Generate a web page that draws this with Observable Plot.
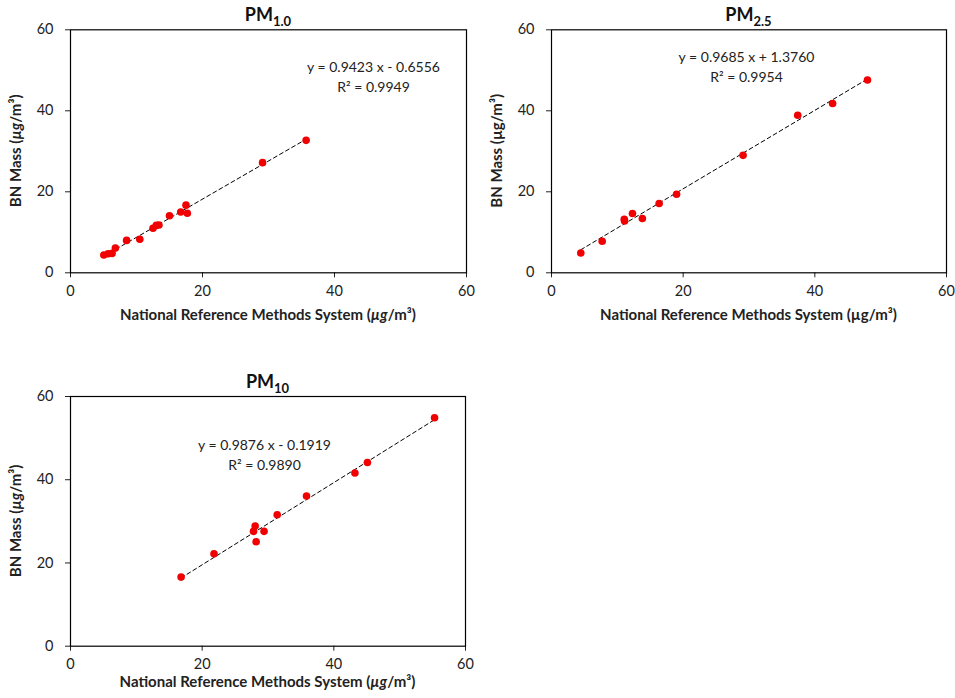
<!DOCTYPE html>
<html>
<head>
<meta charset="utf-8">
<script src="https://cdn.jsdelivr.net/npm/d3@7"></script>
<script src="https://cdn.jsdelivr.net/npm/@observablehq/plot@0.6"></script>
<style>
  body { margin: 0; background: #fff; }
  #chart { position: relative; width: 955px; height: 698px; font-family: Lato, "Open Sans", sans-serif; }
  #chart svg { position: absolute; overflow: visible; }
</style>
</head>
<body>
<div id="chart"></div>
<script>
// Axis ticks shared by all three panels
const axisTicks = [0, 20, 40, 60];

// PM1.0: reference (x) vs BN mass (y), µg/m³
const pm1X = [5.05, 5.7, 6.3, 6.8, 8.5, 10.5, 12.5, 13.0, 13.4, 15.0, 16.7, 17.5, 17.7, 29.1, 35.7];
const pm1Y = [4.4, 4.7, 4.8, 6.1, 8.0, 8.3, 11.0, 11.7, 11.8, 14.1, 15.0, 16.7, 14.7, 27.2, 32.7];
const pm1Fit = { slope: 0.9423, intercept: -0.6556, r2: 0.9949 };

// PM2.5
const pm25X = [4.45, 7.7, 11.05, 11.1, 12.3, 13.8, 16.35, 19.0, 29.1, 37.4, 42.7, 48.0];
const pm25Y = [4.9, 7.8, 13.2, 12.8, 14.65, 13.4, 17.1, 19.4, 29.0, 38.9, 41.8, 47.6];
const pm25Fit = { slope: 0.9685, intercept: 1.3760, r2: 0.9954 };

// PM10
const pm10X = [16.8, 21.8, 27.8, 28.05, 28.2, 29.4, 31.4, 35.85, 43.2, 45.1, 55.3];
const pm10Y = [16.6, 22.2, 27.6, 28.9, 25.1, 27.6, 31.6, 36.1, 41.6, 44.15, 54.9];
const pm10Fit = { slope: 0.9876, intercept: -0.1919, r2: 0.9890 };

const font = 'Lato, "Open Sans", sans-serif';
const ink = "#222";

function drawPanel(cfg) {
  const { xs, ys, fit, left, top, width, height, m, eq, titleSub, italicMu } = cfg;
  const pts = xs.map((v, i) => ({ x: v, y: ys[i] }));
  const ext = d3.extent(xs);
  const line = ext.map(v => ({ x: v, y: fit.slope * v + fit.intercept }));
  const sign = fit.intercept < 0 ? "-" : "+";
  const eqLines = [
    `y = ${fit.slope.toFixed(4)} x ${sign} ${Math.abs(fit.intercept).toFixed(4)}`,
    `R² = ${fit.r2.toFixed(4)}`
  ];

  const svg = Plot.plot({
    width, height,
    marginLeft: m.l, marginRight: m.r, marginTop: m.t, marginBottom: m.b,
    style: { fontFamily: font, fontSize: "14.5px", color: ink, background: "transparent", overflow: "visible" },
    x: { domain: [0, 60], ticks: axisTicks, tickSize: 5, tickPadding: 8, label: null },
    y: { domain: [0, 60], ticks: axisTicks, tickSize: 5, tickPadding: 12, label: null },
    marks: [
      Plot.frame({ stroke: "#000", strokeWidth: 1.2 }),
      Plot.line(line, { x: "x", y: "y", stroke: "#000", strokeWidth: 1, strokeDasharray: "4,3" }),
      Plot.dot(pts, { x: "x", y: "y", r: 3.8, fill: "#f00000", stroke: "none" }),
      Plot.text([eqLines[0]], { text: d => d, frameAnchor: "top-left", dx: eq.dx, dy: eq.dy1,
        textAnchor: "middle", lineAnchor: "middle", fontSize: 14, fill: ink }),
      Plot.text([eqLines[1]], { text: d => d, frameAnchor: "top-left", dx: eq.dx, dy: eq.dy2,
        textAnchor: "middle", lineAnchor: "middle", fontSize: 14, fill: ink })
    ]
  });
  svg.style.left = left + "px";
  svg.style.top = top + "px";

  const s = d3.select(svg);
  const fx0 = m.l, fx1 = width - m.r, fy0 = m.t, fy1 = height - m.b;
  const cx = (fx0 + fx1) / 2, cy = (fy0 + fy1) / 2;

  // Panel title with subscript
  const t = s.append("text")
    .attr("x", cx).attr("y", fy0 - 8.5)
    .attr("text-anchor", "middle")
    .attr("font-family", font).attr("font-weight", "bold").attr("font-size", 18).attr("fill", "#111");
  t.append("tspan").text("PM");
  t.append("tspan").attr("font-size", 13).attr("dy", 5).text(titleSub);

  // Axis titles
  const unit = (sel) => {
    sel.append("tspan").text(" (");
    sel.append("tspan").attr("font-style", italicMu ? "italic" : "normal").text("µg");
    sel.append("tspan").text("/m³)");
  };
  const xl = s.append("text")
    .attr("x", cx).attr("y", fy1 + cfg.xLabelOffset)
    .attr("text-anchor", "middle")
    .attr("font-family", font).attr("font-weight", "bold").attr("font-size", 15).attr("fill", ink);
  xl.append("tspan").text("National Reference Methods System");
  unit(xl);

  const yl = s.append("text")
    .attr("transform", `translate(${fx0 - 49},${cy}) rotate(-90)`)
    .attr("text-anchor", "middle")
    .attr("font-family", font).attr("font-weight", "bold").attr("font-size", 15).attr("fill", ink);
  yl.append("tspan").text("BN Mass");
  unit(yl);

  document.getElementById("chart").appendChild(svg);
}

drawPanel({
  xs: pm1X, ys: pm1Y, fit: pm1Fit, titleSub: "1.0", italicMu: true,
  left: 0, top: 0, width: 480, height: 330,
  m: { l: 70, r: 14, t: 29.3, b: 57.7 },
  eq: { dx: 303, dy1: 37.7, dy2: 57.7 },
  xLabelOffset: 47.5
});

drawPanel({
  xs: pm25X, ys: pm25Y, fit: pm25Fit, titleSub: "2.5", italicMu: false,
  left: 480, top: 0, width: 475, height: 330,
  m: { l: 71, r: 9, t: 29.3, b: 57.7 },
  eq: { dx: 195, dy1: 28, dy2: 47.5 },
  xLabelOffset: 47.5
});

drawPanel({
  xs: pm10X, ys: pm10Y, fit: pm10Fit, titleSub: "10", italicMu: true,
  left: 0, top: 366, width: 480, height: 332,
  m: { l: 70, r: 15, t: 30, b: 52.3 },
  eq: { dx: 194, dy1: 49.5, dy2: 69.5 },
  xLabelOffset: 41.5
});
</script>
</body>
</html>
